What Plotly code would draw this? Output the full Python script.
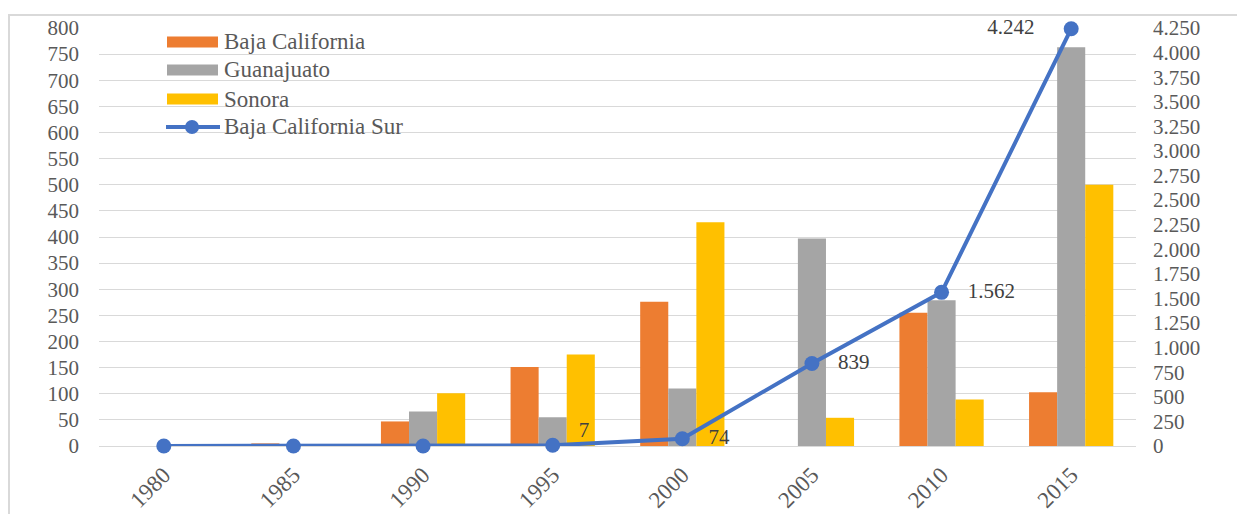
import plotly.graph_objects as go

years = ["1980", "1985", "1990", "1995", "2000", "2005", "2010", "2015"]
baja_california = [0, 5, 47, 151, 276, 0, 255, 103]
guanajuato = [0, 0, 66, 55, 110, 397, 279, 763]
sonora = [0, 0, 101, 175, 428, 54, 89, 500]
baja_california_sur = [0, 0, 0, 7, 74, 839, 1562, 4242]
bcs_labelled = [False, False, False, True, True, True, True, True]
bcs_label_pos = ["middle right", "middle right", "middle right", "raised right",
                 "middle right", "middle right", "middle right", "middle left"]

left_ticks = list(range(0, 801, 50))
right_ticks = list(range(0, 4251, 250))

C_BC = "#ED7D31"
C_GTO = "#A5A5A5"
C_SON = "#FFC000"
C_BCS = "#4472C4"
TXT = "#595959"
FONT = "Liberation Serif"

# page geometry (the page body adds an 8px margin around the figure)
PAGE_W, PAGE_H, OFF = 1245, 522, 8
W, H = PAGE_W - 2 * OFF, PAGE_H - 2 * OFF
L, R, T, B = 99, 1136, 28, 446  # plot area in page pixels


def px(x):
    return (x - L) / (R - L)


def py(y):
    return (B - y) / (B - T)


def fmt(v):
    return f"{v:,}".replace(",", ".")


NB = "\u00a0"
labels = []
positions = []
for v, s, pos in zip(baja_california_sur, bcs_labelled, bcs_label_pos):
    if not s:
        labels.append("")
        positions.append("middle right")
    elif pos == "middle right":
        labels.append(NB * 3 + fmt(v))
        positions.append(pos)
    elif pos == "raised right":
        labels.append(NB * 3 + fmt(v) + "<br>" + NB)
        positions.append("middle right")
    else:
        labels.append(fmt(v) + NB * 5)
        positions.append(pos)

fig = go.Figure()
for name, vals, col in [("Baja California", baja_california, C_BC),
                        ("Guanajuato", guanajuato, C_GTO),
                        ("Sonora", sonora, C_SON)]:
    fig.add_trace(go.Bar(x=years, y=vals, name=name, marker_color=col,
                         marker_line_width=0, showlegend=False))

fig.add_trace(go.Scatter(
    x=years, y=baja_california_sur, name="Baja California Sur", yaxis="y2",
    mode="lines+markers+text",
    line=dict(color=C_BCS, width=4),
    marker=dict(color=C_BCS, size=15),
    text=labels,
    textposition=positions,
    textfont=dict(family=FONT, size=21, color="#404040"),
    cliponaxis=False, showlegend=False))

# legend (drawn like the original Excel legend)
shapes = []
annotations = []
rows = [("Baja California", C_BC, 42), ("Guanajuato", C_GTO, 70), ("Sonora", C_SON, 99)]
for name, col, yc in rows:
    shapes.append(dict(type="rect", xref="paper", yref="paper",
                       x0=px(167), x1=px(218), y0=py(yc + 5.5), y1=py(yc - 5.5),
                       fillcolor=col, line=dict(width=0)))
    annotations.append(dict(text=name, xref="paper", yref="paper", x=px(222), y=py(yc),
                            xanchor="left", yanchor="middle", showarrow=False,
                            font=dict(family=FONT, size=23, color=TXT)))
shapes.append(dict(type="line", xref="paper", yref="paper", x0=px(166), x1=px(220),
                   y0=py(127), y1=py(127), line=dict(color=C_BCS, width=4)))
shapes.append(dict(type="circle", xref="paper", yref="paper", x0=px(185), x1=px(199),
                   y0=py(134), y1=py(120), fillcolor=C_BCS, line=dict(width=0)))
annotations.append(dict(text="Baja California Sur", xref="paper", yref="paper", x=px(222), y=py(127),
                        xanchor="left", yanchor="middle", showarrow=False,
                        font=dict(family=FONT, size=23, color=TXT)))
# chart border
shapes.append(dict(type="rect", xref="paper", yref="paper", x0=px(9), x1=px(1270),
                   y0=py(560), y1=py(15), line=dict(color="#D9D9D9", width=2), layer="below"))

fig.update_layout(
    width=W, height=H,
    margin=dict(l=L - OFF, r=W - (R - OFF), t=T - OFF, b=H - (B - OFF), pad=0, autoexpand=False),
    paper_bgcolor="white", plot_bgcolor="white",
    separators=",.",
    barmode="group", bargap=0.35, bargroupgap=0,
    font=dict(family=FONT, size=21, color=TXT),
    xaxis=dict(type="category", categoryorder="array", categoryarray=years,
               tickangle=-45, showgrid=False, showline=False, ticks="", automargin=False,
               tickfont=dict(family=FONT, size=23, color=TXT), ticklabelstandoff=10),
    yaxis=dict(range=[0, 800], tickvals=left_ticks, showgrid=True, gridcolor="#D9D9D9",
               gridwidth=1, zeroline=True, zerolinecolor="#D9D9D9", zerolinewidth=1,
               showline=False, ticks="", automargin=False,
               tickfont=dict(family=FONT, size=21, color=TXT), ticklabelstandoff=19),
    yaxis2=dict(range=[0, 4250], tickvals=right_ticks, tickformat=",d", overlaying="y",
                side="right", showgrid=False, zeroline=False, showline=False, ticks="",
                automargin=False,
                tickfont=dict(family=FONT, size=21, color=TXT), ticklabelstandoff=16),
    shapes=shapes, annotations=annotations,
)

fig.write_html("out.html")
